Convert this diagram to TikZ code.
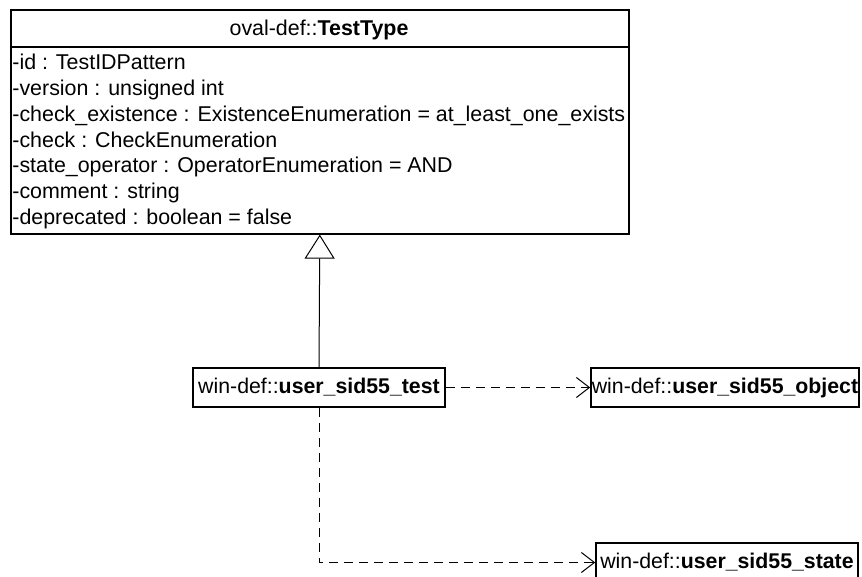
\documentclass[tikz,border=0pt]{standalone}
\usepackage{fontspec}
\setmainfont{Liberation Sans}
\usetikzlibrary{arrows.meta}
\begin{document}
\begin{tikzpicture}[x=1pt,y=-1pt,
  umlbox/.style={draw=black, line width=1.6pt, rectangle, inner sep=0pt, font=\fontsize{21.3}{25.7}\selectfont, align=center},
  dep/.style={draw=black, line width=1pt, dash pattern=on 9pt off 6pt, -{Straight Barb[length=13pt,width=20pt,line width=1pt]}},
  gen/.style={draw=black, line width=1pt, -{Triangle[open,length=24pt,width=30pt,fill=white,line width=1pt]}},
  txt/.style={font=\fontsize{21.4}{25.7}\selectfont, inner sep=0pt}]
\useasboundingbox (0,0) rectangle (862,577);
\clip (0,0) rectangle (862,577);
\fill[white] (0,0) rectangle (862,577);

% TestType class
\node[umlbox, minimum width=618pt, minimum height=224pt, anchor=north west] (tt) at (10,9) {};
\draw[line width=1.6pt] (10,47) -- (628,47);
\node[txt, anchor=base] (ttname) at (319,35.5) {oval-def::\textbf{TestType}};
\node[txt, anchor=base west] (a1) at (12.2,70) {-id : TestIDPattern};
\node[txt, anchor=base west] (a2) at (12.2,95.7) {-version : unsigned int};
\node[txt, anchor=base west] (a3) at (12.2,121.4) {-check\_existence : ExistenceEnumeration = at\_least\_one\_exists};
\node[txt, anchor=base west] (a4) at (12.2,147.1) {-check : CheckEnumeration};
\node[txt, anchor=base west] (a5) at (12.2,172.8) {-state\_operator : OperatorEnumeration = AND};
\node[txt, anchor=base west] (a6) at (12.2,198.5) {-comment : string};
\node[txt, anchor=base west] (a7) at (12.2,224.2) {-deprecated : boolean = false};

% other classes
\node[umlbox, minimum width=252pt, minimum height=39pt] (test) at (319,387.5) {win-def::\textbf{user\_sid55\_test}};
\node[umlbox, minimum width=268pt, minimum height=39pt] (obj) at (725,387.5) {win-def::\textbf{user\_sid55\_object}};
\node[umlbox, minimum width=262pt, minimum height=39pt] (state) at (727,562.5) {win-def::\textbf{user\_sid55\_state}};

% connectors
\draw[gen] (test.north) -- (tt.south);
\draw[dep] (test.east) -- (obj.west);
\draw[dep] (test.south) |- (state.west);
\end{tikzpicture}
\end{document}
